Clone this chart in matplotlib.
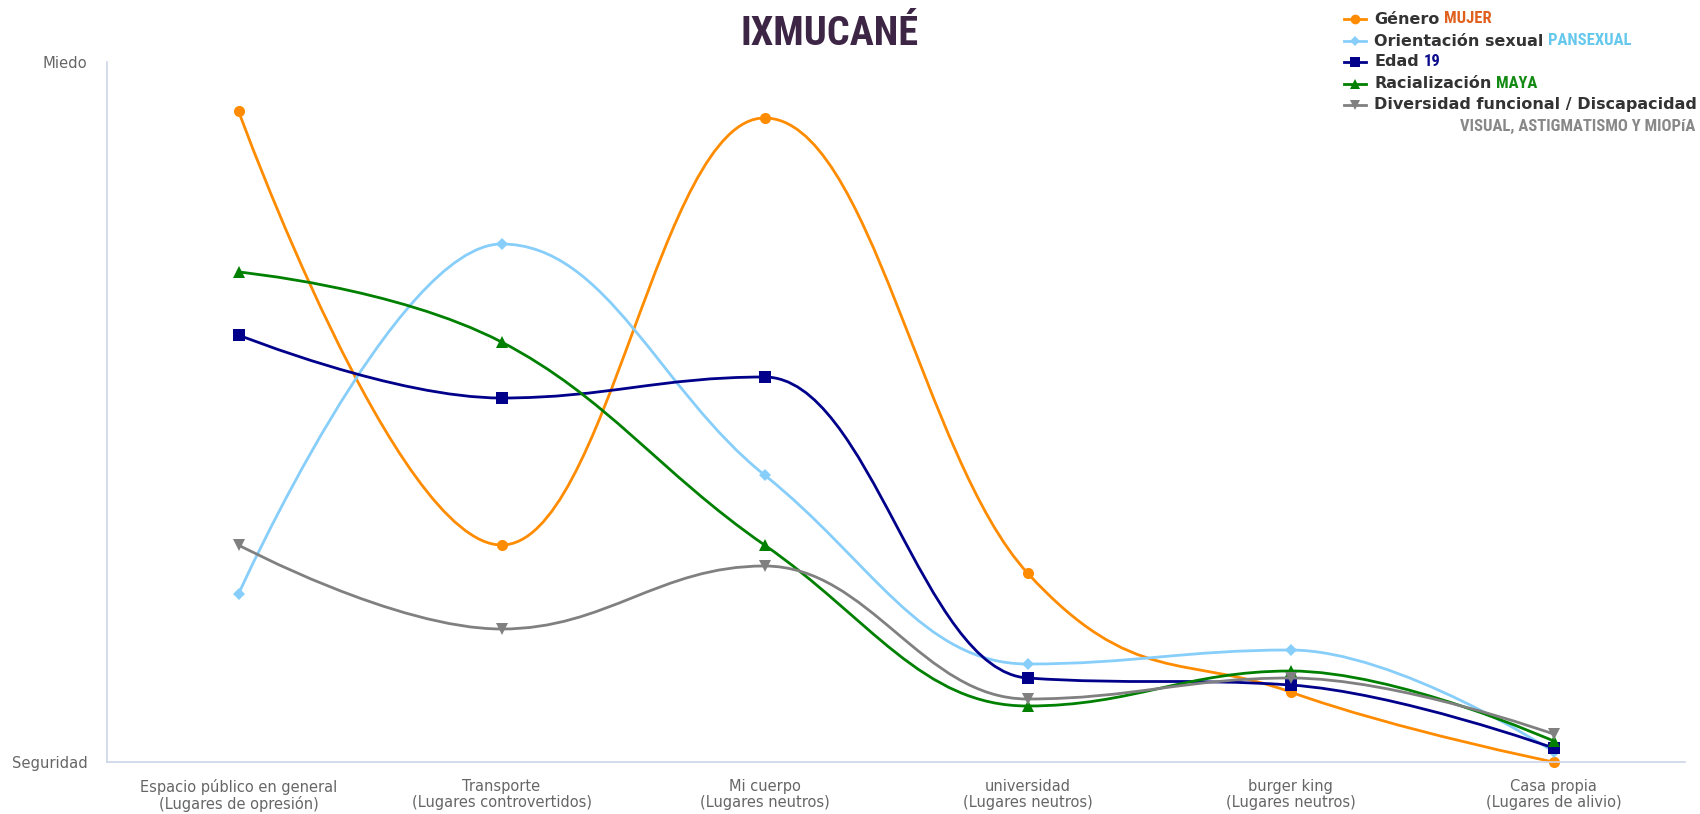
import matplotlib
matplotlib.use("Agg")
import matplotlib.pyplot as plt
from matplotlib import font_manager
from matplotlib.path import Path
from matplotlib.patches import PathPatch
from matplotlib.lines import Line2D

# lugares evaluados (0 = seguridad, 100 = miedo)
lugares = ["Espacio público en general\n(Lugares de opresión)",
           "Transporte\n(Lugares controvertidos)",
           "Mi cuerpo\n(Lugares neutros)",
           "universidad\n(Lugares neutros)",
           "burger king\n(Lugares neutros)",
           "Casa propia\n(Lugares de alivio)"]

genero = [93, 31, 92, 27, 10, 0]
orientacion = [24, 74, 41, 14, 16, 1.5]
edad = [61, 52, 55, 12, 11, 2]
racializacion = [70, 60, 31, 8, 13, 3]
diversidad = [31, 19, 28, 9, 12, 4]

series = [
    ("Género", "MUJER", "#E0601E", genero, "#FF8C00", "o", 8),
    ("Orientación sexual", "PANSEXUAL", "#66C8EC", orientacion, "#87CEFA", "D", 6),
    ("Edad", "19", "#0A0A8C", edad, "#00008B", "s", 8),
    ("Racialización", "MAYA", "#138A13", racializacion, "#008000", "^", 8),
    ("Diversidad funcional / Discapacidad", None, None, diversidad, "#808080", "v", 8),
]
extra_linea = "VISUAL, ASTIGMATISMO Y MIOPíA"


def fuente_estrecha():
    # primera familia condensada que haya instalada
    fuentes = font_manager.fontManager.ttflist
    nombres = {f.name for f in fuentes}
    for cand in ["Roboto Condensed", "Liberation Sans Narrow", "Open Sans Condensed"]:
        if cand in nombres:
            return dict(family=[cand, "DejaVu Sans"])
    for f in fuentes:
        if f.stretch in ("condensed", "semi-condensed"):
            return dict(family=[f.name, "DejaVu Sans"], fontstretch=f.stretch)
    return dict(family=["DejaVu Sans"])


NARROW = fuente_estrecha()


def spline(xs, ys, smoothing=1.5):
    # curva tipo "spline" con puntos de control alineados en cada punto
    n = len(xs)
    left = [None] * n
    right = [None] * n
    for i in range(1, n - 1):
        px, py = xs[i], ys[i]
        lx, ly = xs[i - 1], ys[i - 1]
        nx, ny = xs[i + 1], ys[i + 1]
        lcx = (smoothing * px + lx) / (smoothing + 1)
        lcy = (smoothing * py + ly) / (smoothing + 1)
        rcx = (smoothing * px + nx) / (smoothing + 1)
        rcy = (smoothing * py + ny) / (smoothing + 1)
        if rcx != lcx:
            corr = (rcy - lcy) * (rcx - px) / (rcx - lcx) + py - rcy
            lcy += corr
            rcy += corr
        if lcy > ly and lcy > py:
            lcy = max(ly, py); rcy = 2 * py - lcy
        elif lcy < ly and lcy < py:
            lcy = min(ly, py); rcy = 2 * py - lcy
        if rcy > ny and rcy > py:
            rcy = max(ny, py); lcy = 2 * py - rcy
        elif rcy < ny and rcy < py:
            rcy = min(ny, py); lcy = 2 * py - rcy
        left[i] = (lcx, lcy)
        right[i] = (rcx, rcy)
    verts = [(xs[0], ys[0])]
    codes = [Path.MOVETO]
    for i in range(1, n):
        c1 = right[i - 1] or (xs[i - 1], ys[i - 1])
        c2 = left[i] or (xs[i], ys[i])
        verts += [c1, c2, (xs[i], ys[i])]
        codes += [Path.CURVE4] * 3
    return Path(verts, codes)


fig = plt.figure(figsize=(17, 8.14), dpi=100)
ax = fig.add_axes([107 / 1700, 52 / 814, 1578 / 1700, 700 / 814])

x = list(range(len(lugares)))
for k, (nombre, valor, vcol, ys, col, mk, ms) in enumerate(series):
    patch = PathPatch(spline(x, ys), facecolor="none", edgecolor=col, lw=2.0,
                      zorder=2 + k, clip_on=False, capstyle="round", joinstyle="round")
    ax.add_patch(patch)
    ax.plot(x, ys, linestyle="none", marker=mk, markersize=ms, color=col,
            markeredgewidth=0, zorder=2.5 + k, clip_on=False)

ax.set_xlim(-0.5, 5.5)
ax.set_ylim(0, 100)
ax.set_xticks(x)
ax.set_xticklabels(lugares, fontsize=10.5, color="#666666", linespacing=1.1)
ax.set_yticks([0, 100])
ax.set_yticklabels(["Seguridad", "Miedo"], fontsize=10.6, color="#666666")
ax.tick_params(length=0, pad=12)
ax.tick_params(axis="y", pad=14)
for s in ["top", "right"]:
    ax.spines[s].set_visible(False)
for s in ["left", "bottom"]:
    ax.spines[s].set_color("#ccd6eb")
    ax.spines[s].set_linewidth(1.2)

fig.text(830 / 1700, 1 - 34 / 814, "IXMUCANÉ", ha="center", va="center",
         fontsize=29, fontweight="bold", color="#3d2645", **NARROW)

# leyenda construida a mano para mezclar colores en cada etiqueta
fig.canvas.draw()
renderer = fig.canvas.get_renderer()
filas = [19, 41, 62, 84, 105]
for (nombre, valor, vcol, ys, col, mk, ms), yp in zip(series, filas):
    yf = 1 - yp / 814
    fig.add_artist(Line2D([1344 / 1700, 1366 / 1700], [yf, yf], color=col, lw=2.0,
                          transform=fig.transFigure))
    fig.add_artist(Line2D([1355 / 1700], [yf], marker=mk, markersize=ms - 1, color=col,
                          markeredgewidth=0, transform=fig.transFigure))
    t = fig.text(1374 / 1700, yf, nombre, ha="left", va="center", fontsize=11.5,
                 fontweight="bold", color="#333333")
    if valor:
        bb = t.get_window_extent(renderer)
        fig.text((bb.x1 + 5) / 1700, yf + 0.5 / 814, valor, ha="left", va="center",
                 fontsize=12, fontweight="bold", color=vcol, **NARROW)
fig.text(1695 / 1700, 1 - 126 / 814, extra_linea, ha="right", va="center",
         fontsize=12, fontweight="bold", color="#888888", **NARROW)

fig.savefig("out.png", dpi=100, facecolor="white")
